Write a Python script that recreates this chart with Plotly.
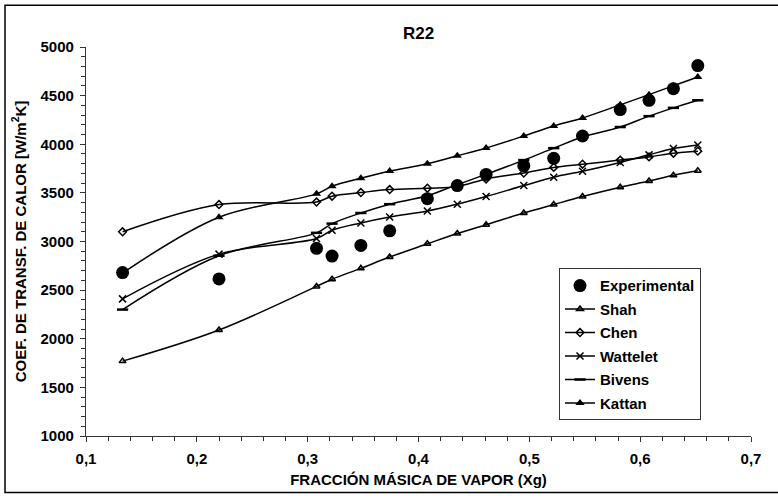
import plotly.graph_objects as go

# Vapour quality (mass fraction of vapour) at each test point
xg = [0.133, 0.220, 0.308, 0.322, 0.348, 0.374, 0.408, 0.435, 0.461,
      0.495, 0.522, 0.548, 0.582, 0.608, 0.630, 0.652]

# Heat transfer coefficient, W/m2K
experimental = [2680, 2615, 2930, 2850, 2960, 3110, 3440, 3575, 3690,
                3780, 3855, 4085, 4357, 4452, 4571, 4809]
shah = [1770, 2090, 2538, 2612, 2724, 2840, 2976, 3082, 3173,
        3293, 3380, 3462, 3558, 3622, 3681, 3727]
chen = [3100, 3380, 3406, 3466, 3503, 3534, 3548, 3565, 3643,
        3704, 3762, 3795, 3837, 3870, 3908, 3929]
wattelet = [2410, 2870, 3031, 3116, 3191, 3252, 3313, 3384, 3462,
            3575, 3661, 3722, 3813, 3891, 3956, 3993]
bivens = [2300, 2854, 3089, 3184, 3293, 3384, 3470, 3585, 3690,
          3837, 3960, 4075, 4177, 4289, 4374, 4452]
kattan = [2675, 3250, 3490, 3568, 3650, 3724, 3799, 3881, 3962,
          4085, 4187, 4270, 4405, 4510, 4602, 4691]

FONT = "Arial, Liberation Sans, sans-serif"
W, H = 778, 498
L, R, T, B = 86, 27, 47, 59

fig = go.Figure()

correlations = [
    ("Shah", shah, dict(symbol="triangle-up-open", size=6, line=dict(width=1.5, color="black"))),
    ("Chen", chen, dict(symbol="diamond-open", size=6, line=dict(width=1.5, color="black"))),
    ("Wattelet", wattelet, dict(symbol="x-thin", size=7, line=dict(width=1.5, color="black"))),
    ("Bivens", bivens, dict(symbol="line-ew", size=8, line=dict(width=2.5, color="black"))),
    ("Kattan", kattan, dict(symbol="triangle-up", size=8)),
]
for rank, (name, vals, marker) in enumerate(correlations, start=2):
    fig.add_trace(go.Scatter(
        x=xg, y=vals, name=name, mode="lines+markers",
        line=dict(color="black", width=1.5, shape="spline", smoothing=1.0),
        marker=dict(color="black", **marker),
        legendrank=rank, legendgroup=name,
    ))

fig.add_trace(go.Scatter(
    x=xg, y=experimental, name="Experimental", mode="markers",
    marker=dict(symbol="circle", size=13, color="black"),
    legendrank=1, legendgroup="Experimental",
))


def px_x(p):
    return (p - L) / (W - L - R)


def px_y(p):
    return (H - B - p) / (H - T - B)


axis_common = dict(
    showline=True, linecolor="#333", linewidth=1.2, showgrid=False, zeroline=False,
    ticks="outside", ticklen=5, tickcolor="#333", tickwidth=1,
    tickfont=dict(family=FONT, size=15, color="black", weight="bold"),
)

fig.update_layout(
    width=W, height=H,
    margin=dict(l=L, r=R, t=T, b=B),
    paper_bgcolor="white", plot_bgcolor="white",
    separators=",.",
    title=dict(text="R22", x=0.5, xref="paper", y=1 - 33 / H, yref="container",
               yanchor="middle", xanchor="center",
               font=dict(family=FONT, size=17, color="black", weight="bold")),
    xaxis=dict(range=[0.1, 0.7], dtick=0.1, tickformat=".1f",
               minor=dict(dtick=0.02, ticks="outside", ticklen=4, tickcolor="#333"),
               ticklabelstandoff=4,
               title=dict(text="FRACCIÓN MÁSICA DE VAPOR (Xg)", standoff=8,
                          font=dict(family=FONT, size=15, color="black", weight="bold")),
               **axis_common),
    yaxis=dict(range=[1000, 5000], dtick=500,
               minor=dict(dtick=100, ticks="outside", ticklen=4, tickcolor="#333"),
               ticklabelstandoff=3,
               title=dict(text="COEF. DE TRANSF. DE CALOR [W/m<sup>2</sup>K]", standoff=10,
                          font=dict(family=FONT, size=15, color="black", weight="bold")),
               **axis_common),
    legend=dict(x=px_x(559), y=px_y(270), xanchor="left", yanchor="top",
                bgcolor="white", bordercolor="#333", borderwidth=1,
                tracegroupgap=1, itemwidth=30,
                font=dict(family=FONT, size=15, color="black", weight="bold")),
    showlegend=True,
)

# Outer frame of the chart
fig.add_shape(type="rect", xref="paper", yref="paper",
              x0=px_x(5), x1=px_x(800), y0=px_y(496), y1=px_y(5),
              line=dict(color="black", width=1.5), layer="below")

fig.write_html("out.html")
